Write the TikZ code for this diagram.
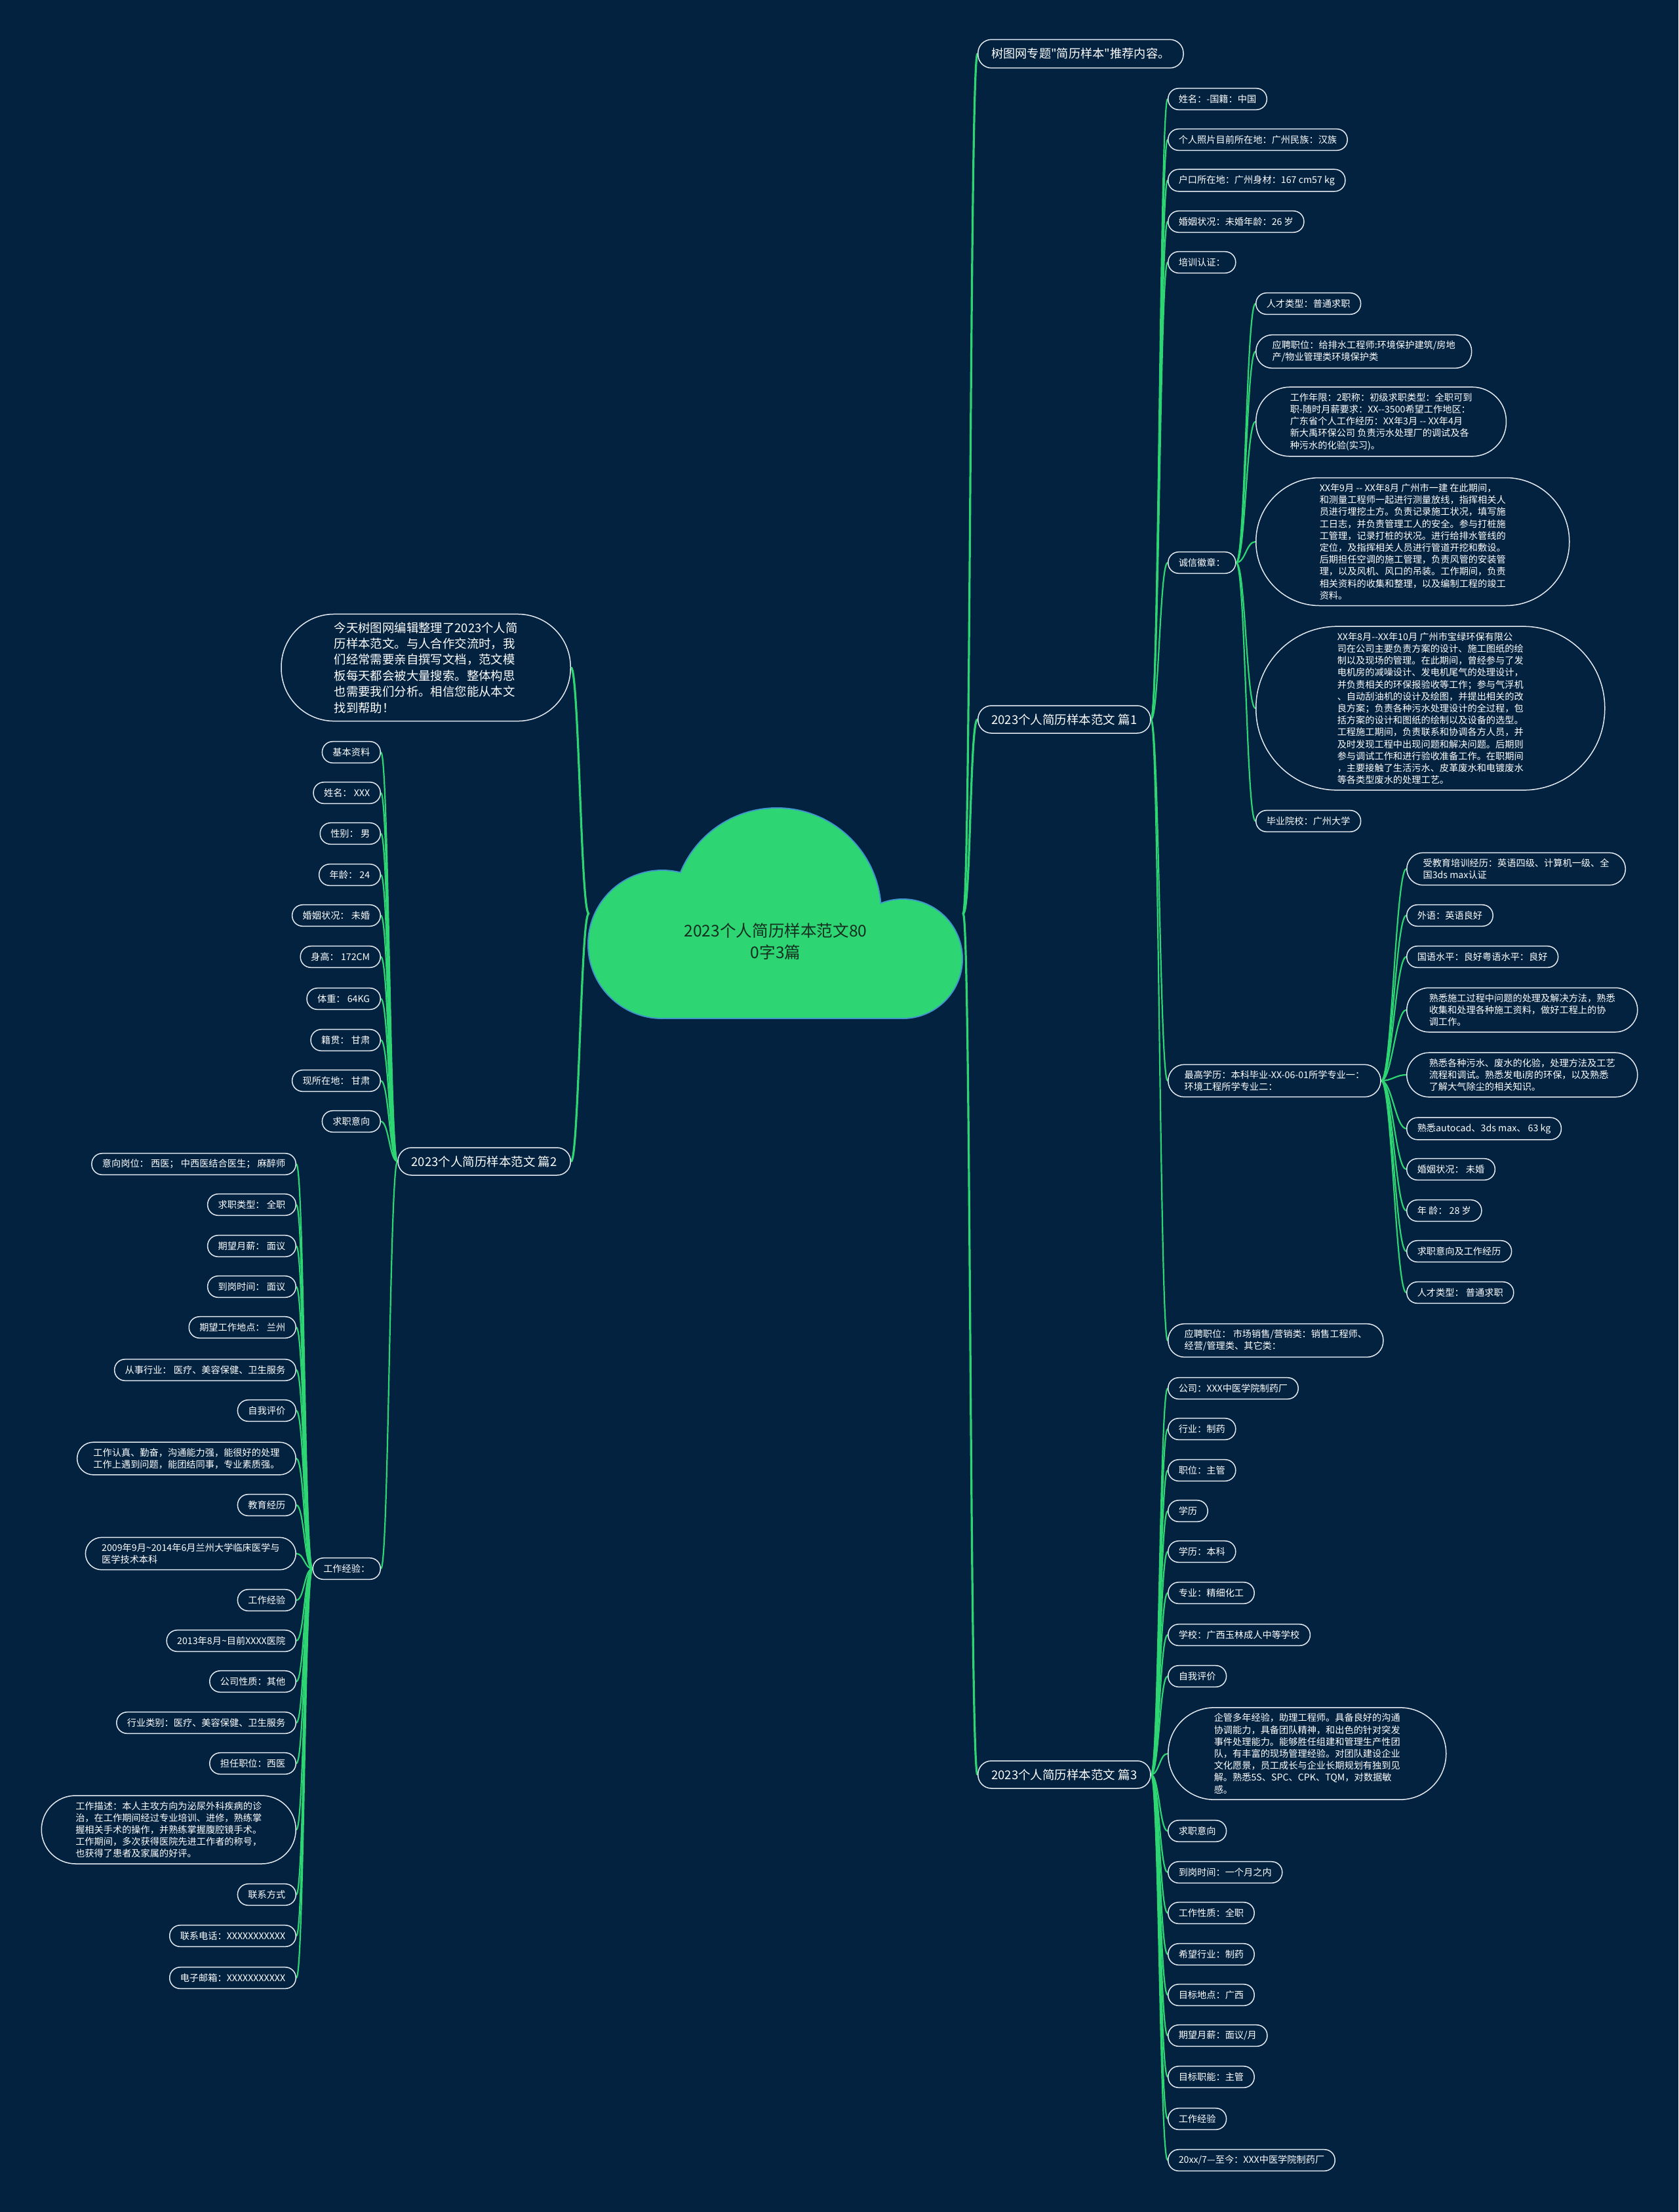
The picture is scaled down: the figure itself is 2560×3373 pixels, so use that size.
\documentclass[tikz,border=0pt]{standalone}
\usepackage{fontspec}
\setmainfont{Noto Sans CJK SC}
\newfontfamily\plainfont{Noto Sans CJK SC}
\usepackage{tikz}
\usetikzlibrary{positioning,calc}
\definecolor{navy}{RGB}{2,34,64}
\definecolor{leafgreen}{RGB}{46,213,115}
\definecolor{cloudedge}{RGB}{64,150,205}
\definecolor{rim}{RGB}{228,234,240}
\definecolor{cloudtext}{RGB}{20,46,32}
\pgfdeclarelayer{bg}
\pgfdeclarelayer{wires}
\pgfsetlayers{bg,wires,main}

\begin{document}
\begin{tikzpicture}[
	x=0.5pt, y=-0.5pt,
	leaf/.style={
		rectangle,
		rounded corners=8pt,
		draw=rim,
		line width=0.75pt,
		fill=navy,
		text=white,
		font=\fontsize{7.1}{9.1}\selectfont,
		align=left,
		inner xsep=8pt,
		inner ysep=4.5pt,
		minimum height=16.3pt
	},
	bubble/.style={
		leaf,
		rounded corners=#1,
		inner xsep=#1
	},
	branch/.style={
		leaf,
		font=\fontsize{9.25}{11}\selectfont,
		rounded corners=10.3pt,
		inner xsep=10.3pt,
		minimum height=21pt
	},
	intro/.style={
		bubble=40.3pt,
		font=\fontsize{9.2}{12.2}\selectfont,
		inner ysep=6pt
	},
	limb/.style={draw=leafgreen, line width=1.6pt, line cap=round},
	twig/.style={draw=leafgreen, line width=1.1pt, line cap=round},
	]
	\useasboundingbox (0,0) rectangle (2560,3373);
	\begin{pgfonlayer}{bg}
		\fill[navy] (0,0) rectangle (2560,3373);
	\end{pgfonlayer}
	
	% central cloud
	\draw[cloudedge, line width=2pt] (1010,1440) circle[radius=112];
	\draw[cloudedge, line width=2pt] (1185,1391) circle[radius=158];
	\draw[cloudedge, line width=2pt] (1377,1462) circle[radius=90];
	\draw[cloudedge, line width=2pt] (1010,1440) rectangle (1377,1552);
	\fill[leafgreen] (1010,1440) circle[radius=112];
	\fill[leafgreen] (1185,1391) circle[radius=158];
	\fill[leafgreen] (1377,1462) circle[radius=90];
	\fill[leafgreen] (1010,1440) rectangle (1377,1552);
	\node[font=\fontsize{12.3}{16.5}\selectfont, text=cloudtext, align=center] (hub) at (1183,1436) {2023个人简历样本范文80\\0字3篇};
	\coordinate (cL) at (898,1393);
	\coordinate (cR) at (1469,1393);
	
	% right side
	\node[branch, anchor=west, minimum height=21.7pt, font=\plainfont\fontsize{9.1}{11}\selectfont] (topic) at (1491,82) {树图网专题"简历样本"推荐内容。};
	\node[branch, anchor=west] (paper1) at (1491,1097) {2023个人简历样本范文 篇1};
	\node[branch, anchor=west] (paper3) at (1491,2706) {2023个人简历样本范文 篇3};
	
	\node[leaf, anchor=west] (a1) at (1781,151) {姓名：-国籍：中国};
	\node[leaf, anchor=west] (a2) at (1781,213) {个人照片目前所在地：广州民族：汉族};
	\node[leaf, anchor=west] (a3) at (1781,275) {户口所在地：广州身材：167 cm57 kg};
	\node[leaf, anchor=west] (a4) at (1781,338) {婚姻状况：未婚年龄：26 岁};
	\node[leaf, anchor=west] (a5) at (1781,400) {培训认证：};
	\node[leaf, anchor=west] (a6) at (1781,858) {诚信徽章：};
	\node[bubble=12.4pt, anchor=west] (a7) at (1781,1648) {最高学历：本科毕业-XX-06-01所学专业一：\\环境工程所学专业二：};
	\node[bubble=12.4pt, anchor=west] (a8) at (1781,2044) {应聘职位： 市场销售/营销类：销售工程师、\\经营/管理类、其它类：};
	
	\node[leaf, anchor=west] (b1) at (1915,463) {人才类型：普通求职};
	\node[bubble=12.4pt, anchor=west] (b2) at (1915,536) {应聘职位：给排水工程师:环境保护建筑/房地\\产/物业管理类环境保护类};
	\node[bubble=26pt, anchor=west] (b3) at (1915,643) {工作年限：2职称：初级求职类型：全职可到\\职-随时月薪要求：XX-{}-3500希望工作地区：\\广东省个人工作经历：XX年3月 -{}- XX年4月\\新大禹环保公司 负责污水处理厂的调试及各\\种污水的化验(实习)。};
	\node[bubble=48.5pt, anchor=west] (b4) at (1915,826) {XX年9月 -{}- XX年8月 广州市一建 在此期间，\\和测量工程师一起进行测量放线，指挥相关人\\员进行埋挖土方。负责记录施工状况，填写施\\工日志，并负责管理工人的安全。参与打桩施\\工管理，记录打桩的状况。进行给排水管线的\\定位，及指挥相关人员进行管道开挖和敷设。\\后期担任空调的施工管理，负责风管的安装管\\理，以及风机、风口的吊装。工作期间，负责\\相关资料的收集和整理，以及编制工程的竣工\\资料。};
	\node[bubble=62pt, anchor=west] (b5) at (1915,1080) {XX年8月-{}-XX年10月 广州市宝绿环保有限公\\司在公司主要负责方案的设计、施工图纸的绘\\制以及现场的管理。在此期间，曾经参与了发\\电机房的减噪设计、发电机尾气的处理设计，\\并负责相关的环保报验收等工作；参与气浮机\\、自动刮油机的设计及绘图，并提出相关的改\\良方案；负责各种污水处理设计的全过程，包\\括方案的设计和图纸的绘制以及设备的选型。\\工程施工期间，负责联系和协调各方人员，并\\及时发现工程中出现问题和解决问题。后期则\\参与调试工作和进行验收准备工作。在职期间\\，主要接触了生活污水、皮革废水和电镀废水\\等各类型废水的处理工艺。};
	\node[leaf, anchor=west] (b6) at (1915,1252) {毕业院校：广州大学};
	
	\node[bubble=12.4pt, anchor=west] (c1) at (2145,1325) {受教育培训经历：英语四级、计算机一级、全\\国3ds max认证};
	\node[leaf, anchor=west] (c2) at (2145,1396) {外语：英语良好};
	\node[leaf, anchor=west] (c3) at (2145,1459) {国语水平：良好粤语水平：良好};
	\node[bubble=17pt, anchor=west] (c4) at (2145,1540) {熟悉施工过程中问题的处理及解决方法，熟悉\\收集和处理各种施工资料，做好工程上的协\\调工作。};
	\node[bubble=17pt, anchor=west] (c5) at (2145,1639) {熟悉各种污水、废水的化验，处理方法及工艺\\流程和调试。熟悉发电i房的环保，以及熟悉\\了解大气除尘的相关知识。};
	\node[leaf, anchor=west] (c6) at (2145,1721) {熟悉autocad、3ds max、 63 kg};
	\node[leaf, anchor=west] (c7) at (2145,1783) {婚姻状况： 未婚};
	\node[leaf, anchor=west] (c8) at (2145,1846) {年 龄： 28 岁};
	\node[leaf, anchor=west] (c9) at (2145,1908) {求职意向及工作经历};
	\node[leaf, anchor=west] (c10) at (2145,1971) {人才类型： 普通求职};
	
	\node[leaf, anchor=west] (d1) at (1781,2117) {公司：XXX中医学院制药厂};
	\node[leaf, anchor=west] (d2) at (1781,2179) {行业：制药};
	\node[leaf, anchor=west] (d3) at (1781,2242) {职位：主管};
	\node[leaf, anchor=west] (d4) at (1781,2304) {学历};
	\node[leaf, anchor=west] (d5) at (1781,2366) {学历：本科};
	\node[leaf, anchor=west] (d6) at (1781,2429) {专业：精细化工};
	\node[leaf, anchor=west] (d7) at (1781,2493) {学校：广西玉林成人中等学校};
	\node[leaf, anchor=west] (d8) at (1781,2556) {自我评价};
	\node[bubble=35pt, anchor=west] (d9) at (1781,2674) {企管多年经验，助理工程师。具备良好的沟通\\协调能力，具备团队精神，和出色的针对突发\\事件处理能力。能够胜任组建和管理生产性团\\队，有丰富的现场管理经验。对团队建设企业\\文化愿景，员工成长与企业长期规划有独到见\\解。熟悉5S、SPC、CPK、TQM，对数据敏\\感。};
	\node[leaf, anchor=west] (d10) at (1781,2792) {求职意向};
	\node[leaf, anchor=west] (d11) at (1781,2855) {到岗时间：一个月之内};
	\node[leaf, anchor=west] (d12) at (1781,2917) {工作性质：全职};
	\node[leaf, anchor=west] (d13) at (1781,2980) {希望行业：制药};
	\node[leaf, anchor=west] (d14) at (1781,3042) {目标地点：广西};
	\node[leaf, anchor=west] (d15) at (1781,3104) {期望月薪：面议/月};
	\node[leaf, anchor=west] (d16) at (1781,3167) {目标职能：主管};
	\node[leaf, anchor=west] (d17) at (1781,3231) {工作经验};
	\node[leaf, anchor=west] (d18) at (1781,3294) {20xx/7—至今：XXX中医学院制药厂};
	
	% left side
	\node[intro, anchor=east] (intro) at (871,1018) {今天树图网编辑整理了2023个人简\\历样本范文。与人合作交流时，我\\们经常需要亲自撰写文档，范文模\\板每天都会被大量搜索。整体构思\\也需要我们分析。相信您能从本文\\找到帮助！};
	\node[branch, anchor=east] (paper2) at (871,1771) {2023个人简历样本范文 篇2};
	
	\node[leaf, anchor=east] (e1) at (581,1147) {基本资料};
	\node[leaf, anchor=east] (e2) at (581,1209) {姓名： XXX};
	\node[leaf, anchor=east] (e3) at (581,1271) {性别： 男};
	\node[leaf, anchor=east] (e4) at (581,1334) {年龄： 24};
	\node[leaf, anchor=east] (e5) at (581,1396) {婚姻状况： 未婚};
	\node[leaf, anchor=east] (e6) at (581,1459) {身高： 172CM};
	\node[leaf, anchor=east] (e7) at (581,1523) {体重： 64KG};
	\node[leaf, anchor=east] (e8) at (581,1586) {籍贯： 甘肃};
	\node[leaf, anchor=east] (e9) at (581,1648) {现所在地： 甘肃};
	\node[leaf, anchor=east] (e10) at (581,1710) {求职意向};
	\node[leaf, anchor=east] (e11) at (581,2392) {工作经验：};
	
	\node[leaf, anchor=east] (f1) at (452,1775) {意向岗位： 西医； 中西医结合医生； 麻醉师};
	\node[leaf, anchor=east] (f2) at (452,1837) {求职类型： 全职};
	\node[leaf, anchor=east] (f3) at (452,1900) {期望月薪： 面议};
	\node[leaf, anchor=east] (f4) at (452,1962) {到岗时间： 面议};
	\node[leaf, anchor=east] (f5) at (452,2024) {期望工作地点： 兰州};
	\node[leaf, anchor=east] (f6) at (452,2089) {从事行业： 医疗、美容保健、卫生服务};
	\node[leaf, anchor=east] (f7) at (452,2151) {自我评价};
	\node[bubble=12.4pt, anchor=east] (f8) at (452,2224) {工作认真、勤奋，沟通能力强，能很好的处理\\工作上遇到问题，能团结同事，专业素质强。};
	\node[leaf, anchor=east] (f9) at (452,2295) {教育经历};
	\node[bubble=12.4pt, anchor=east] (f10) at (452,2369) {2009年9月\textasciitilde 2014年6月兰州大学临床医学与\\医学技术本科};
	\node[leaf, anchor=east] (f11) at (452,2440) {工作经验};
	\node[leaf, anchor=east] (f12) at (452,2502) {2013年8月\textasciitilde 目前XXXX医院};
	\node[leaf, anchor=east] (f13) at (452,2564) {公司性质：其他};
	\node[leaf, anchor=east] (f14) at (452,2627) {行业类别：医疗、美容保健、卫生服务};
	\node[leaf, anchor=east] (f15) at (452,2689) {担任职位：西医};
	\node[bubble=26pt, anchor=east] (f16) at (452,2790) {工作描述：本人主攻方向为泌尿外科疾病的诊\\治，在工作期间经过专业培训、进修，熟练掌\\握相关手术的操作，并熟练掌握腹腔镜手术。\\工作期间，多次获得医院先进工作者的称号，\\也获得了患者及家属的好评。};
	\node[leaf, anchor=east] (f17) at (452,2889) {联系方式};
	\node[leaf, anchor=east] (f18) at (452,2952) {联系电话：XXXXXXXXXXX};
	\node[leaf, anchor=east] (f19) at (452,3016) {电子邮箱：XXXXXXXXXXX};
	
	% connectors
	\begin{pgfonlayer}{wires}
		\foreach \n in {topic,paper1,paper3}
		\draw[limb] (cR) .. controls +(12,0) and +(-12,0) .. (\n.west);
		\foreach \n in {intro,paper2}
		\draw[limb] (cL) .. controls +(-12,0) and +(12,0) .. (\n.east);
		\foreach \n in {a1,a2,a3,a4,a5,a6,a7,a8}
		\draw[twig] (paper1.east) .. controls +(12,0) and +(-12,0) .. (\n.west);
		\foreach \n in {b1,b2,b3,b4,b5,b6}
		\draw[twig] (a6.east) .. controls +(14,0) and +(-14,0) .. (\n.west);
		\foreach \n in {c1,c2,c3,c4,c5,c6,c7,c8,c9,c10}
		\draw[twig] (a7.east) .. controls +(16,0) and +(-16,0) .. (\n.west);
		\foreach \n in {d1,d2,d3,d4,d5,d6,d7,d8,d9,d10,d11,d12,d13,d14,d15,d16,d17,d18}
		\draw[twig] (paper3.east) .. controls +(12,0) and +(-12,0) .. (\n.west);
		\foreach \n in {e1,e2,e3,e4,e5,e6,e7,e8,e9,e10,e11}
		\draw[twig] (paper2.west) .. controls +(-12,0) and +(12,0) .. (\n.east);
		\foreach \n in {f1,f2,f3,f4,f5,f6,f7,f8,f9,f10,f11,f12,f13,f14,f15,f16,f17,f18,f19}
		\draw[twig] (e11.west) .. controls +(-12,0) and +(12,0) .. (\n.east);
	\end{pgfonlayer}
\end{tikzpicture}
\end{document}
